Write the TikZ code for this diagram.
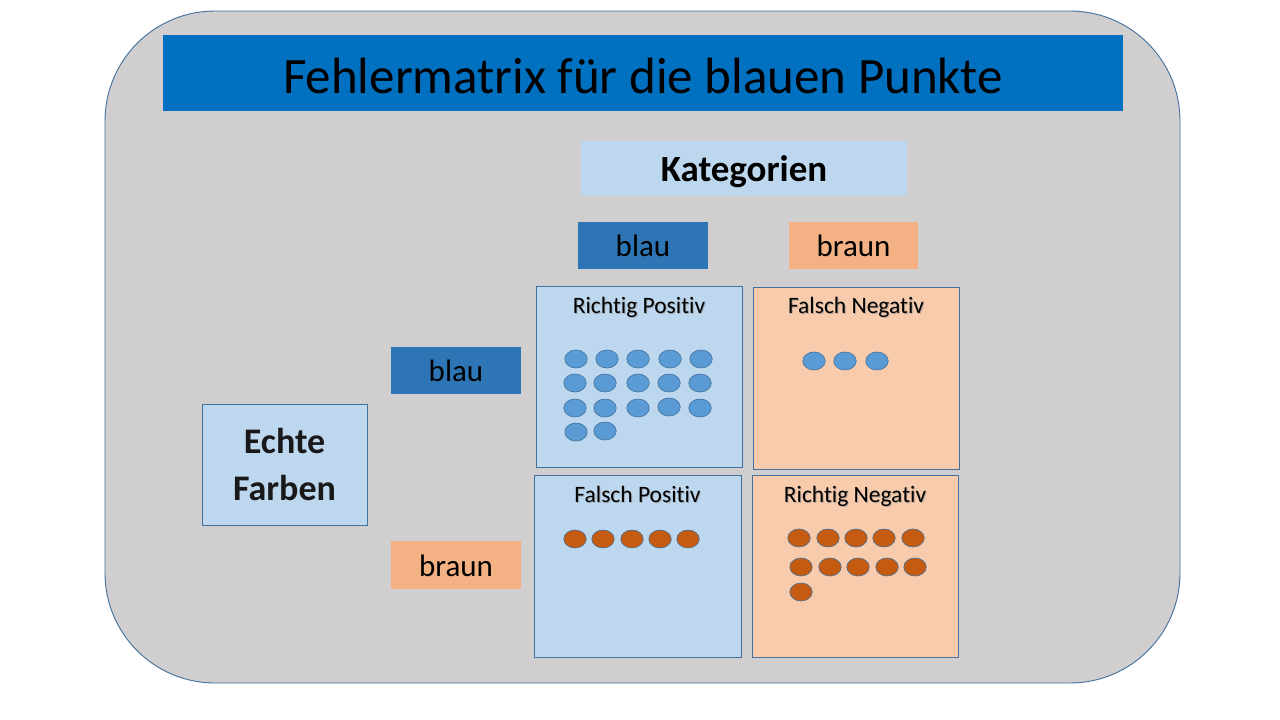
\documentclass[tikz,border=0pt]{standalone}
\usepackage{fontspec}
\setmainfont{Carlito}[RawFeature={-liga}]
\usetikzlibrary{shapes.geometric}
\definecolor{panelgrey}{HTML}{D0CECE}
\definecolor{edgeblue}{HTML}{41719C}
\definecolor{titleblue}{HTML}{0070C0}
\definecolor{paleblue}{HTML}{BDD7EE}
\definecolor{midblue}{HTML}{2E75B6}
\definecolor{lightorange}{HTML}{F4B183}
\definecolor{peach}{HTML}{F8CBAD}
\definecolor{dotblue}{HTML}{5B9BD5}
\definecolor{dotbrown}{HTML}{C55A11}
\begin{document}
\begin{tikzpicture}[x=1pt,y=-1pt,
  box/.style={rectangle, inner sep=0pt, text height=#1, text depth=0pt},
  box/.default=22.4pt,
  cell/.style={rectangle, draw=edgeblue, line width=0.9pt, inner sep=0pt},
  celltitle/.style={anchor=base, font=\fontsize{23.5}{28}\selectfont},
  titleshadow/.style={celltitle, text=black!45, opacity=0.6},
  dot/.style={ellipse, draw=edgeblue, line width=0.6pt, inner sep=0pt,
              minimum width=22.5pt, minimum height=18pt},
  bluedot/.style={dot, fill=dotblue},
  browndot/.style={dot, fill=dotbrown}]
\useasboundingbox (0,0) rectangle (1280,720);
\fill[white] (0,0) rectangle (1280,720);

% rounded grey panel
\draw[fill=panelgrey, draw=edgeblue, line width=0.9pt, rounded corners=110pt]
  (105,11) rectangle (1180,683);

% heading bar
\node[box=40pt, fill=titleblue, minimum width=960pt, minimum height=76pt,
      font=\fontsize{51}{60}\selectfont] (title) at (643,73)
  {Fehlermatrix für die blauen Punkte};

% predicted categories
\node[box=26pt, fill=paleblue, minimum width=326pt, minimum height=55pt,
      font=\fontsize{37}{44}\selectfont\bfseries] (kat) at (744,168.5) {Kategorien};
\node[box, fill=midblue, minimum width=130pt, minimum height=47pt,
      font=\fontsize{31}{37}\selectfont] (blautop) at (643,245.5) {blau};
\node[box, fill=lightorange, minimum width=129pt, minimum height=47pt,
      font=\fontsize{31}{37}\selectfont] (brauntop) at (853.5,245.5) {braun};

% true colours
\node[rectangle, draw=edgeblue, line width=0.9pt, fill=paleblue, inner sep=0pt,
      minimum width=165pt, minimum height=121pt, align=center,
      font=\fontsize{36}{47}\selectfont\bfseries, text=black!90] (echte) at (284.5,464.5)
  {Echte\\Farben};
\node[box, fill=midblue, minimum width=130pt, minimum height=47pt,
      font=\fontsize{31}{37}\selectfont] (blauleft) at (456,370.5) {blau};
\node[box, fill=lightorange, minimum width=130pt, minimum height=48pt,
      font=\fontsize{31}{37}\selectfont] (braunleft) at (456,565) {braun};

% matrix cells
\node[cell, fill=paleblue, minimum width=206pt, minimum height=181pt] (rp) at (639,376.5) {};
\node[cell, fill=peach, minimum width=206pt, minimum height=182pt] (fn) at (856,378) {};
\node[cell, fill=paleblue, minimum width=207pt, minimum height=182pt] (fp) at (637.5,566) {};
\node[cell, fill=peach, minimum width=206pt, minimum height=182pt] (rn) at (855,566) {};

% cell titles with a soft shadow
\node[titleshadow] (rpsh) at (640,314.2) {Richtig Positiv};
\node[celltitle] (rpt) at (639,313) {Richtig Positiv};
\node[titleshadow] (fnsh) at (857,314.2) {Falsch Negativ};
\node[celltitle] (fnt) at (856,313) {Falsch Negativ};
\node[titleshadow] (fpsh) at (638.5,503.2) {Falsch Positiv};
\node[celltitle] (fpt) at (637.5,502) {Falsch Positiv};
\node[titleshadow] (rnsh) at (856,503.2) {Richtig Negativ};
\node[celltitle] (rnt) at (855,502) {Richtig Negativ};

% blue points classified as blue
\foreach \p [count=\i] in {(576,359),(607,359),(638,359),(670,359),(701,359),
                           (575,383),(605,383),(638,383),(669,383),(700,383),
                           (575,408),(605,408),(638,408),(669,407),(700,408),
                           (576,432),(605,431)}
  \node[bluedot] (rpd\i) at \p {};
% blue points classified as brown
\foreach \p [count=\i] in {(814,361),(845,361),(877,361)}
  \node[bluedot] (fnd\i) at \p {};
% brown points classified as blue
\foreach \p [count=\i] in {(575,539),(603,539),(632,539),(660,539),(688,539)}
  \node[browndot] (fpd\i) at \p {};
% brown points classified as brown
\foreach \p [count=\i] in {(799,538),(828,538),(856,538),(884,538),(913,538),
                           (801,567),(830,567),(858,567),(887,567),(915,567),
                           (801,592)}
  \node[browndot] (rnd\i) at \p {};
\end{tikzpicture}
\end{document}
